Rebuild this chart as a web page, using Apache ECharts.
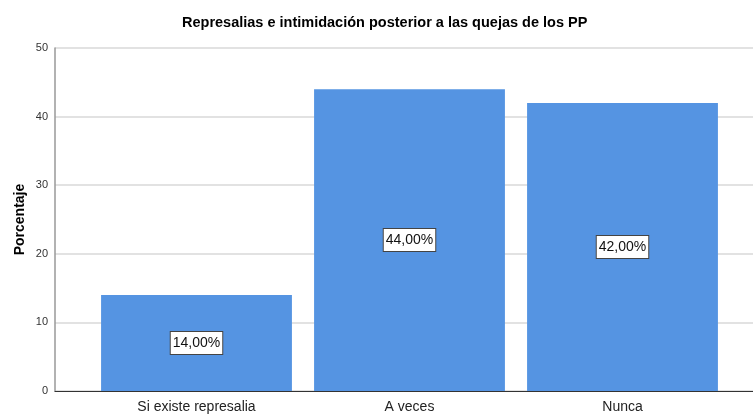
<!DOCTYPE html>
<html>
<head>
<meta charset="utf-8">
<script src="https://cdn.jsdelivr.net/npm/echarts@6/dist/echarts.min.js"></script>
<style>
  html, body { margin: 0; padding: 0; background: #fff; }
  #main { width: 753px; height: 416px; }
</style>
</head>
<body>
<div id="main"></div>
<script>
var titleText = 'Represalias e intimidación posterior a las quejas de los PP';
var categories = ['Si existe represalia', 'A veces', 'Nunca'];
var percentages = [14, 44, 42];
var yTicks = [0, 10, 20, 30, 40, 50];

var font = '"Liberation Sans", Arial, sans-serif';

var chart = echarts.init(document.getElementById('main'));

var option = {
    backgroundColor: '#ffffff',
    animation: false,
    title: {
        text: titleText,
        left: 177,
        top: 10,
        textStyle: { fontFamily: font, fontSize: 14.5, fontWeight: 'bold', color: '#000' }
    },
    grid: [
        // frame: axis lines + gridlines across full width
        { left: 55, right: 0, top: 48, bottom: 25, outerBoundsMode: 'none' },
        // bars
        { left: 90, right: 24, top: 48, bottom: 25, outerBoundsMode: 'none' }
    ],
    xAxis: [
        {
            type: 'category',
            gridIndex: 0,
            data: [''],
            axisLine: { lineStyle: { color: '#333', width: 1 } },
            axisTick: { show: false },
            axisLabel: { show: false }
        },
        {
            type: 'category',
            gridIndex: 1,
            data: categories,
            axisLine: { show: false },
            axisTick: { show: false },
            axisLabel: { fontFamily: font, fontSize: 14, color: '#222', margin: 9 }
        }
    ],
    yAxis: [
        {
            type: 'value',
            gridIndex: 0,
            min: yTicks[0],
            max: yTicks[yTicks.length - 1],
            interval: 10,
            name: 'Porcentaje',
            nameLocation: 'middle',
            nameGap: 28,
            nameMoveOverlap: false,
            nameTextStyle: { fontFamily: font, fontSize: 14, fontWeight: 'bold', color: '#000' },
            axisLine: { show: true, lineStyle: { color: '#999', width: 1.5 } },
            axisTick: { show: false },
            axisLabel: { fontFamily: font, fontSize: 11, color: '#333', margin: 7 },
            splitLine: { show: true, lineStyle: { color: '#d9d9d9', width: 1.5 } }
        },
        {
            type: 'value',
            gridIndex: 1,
            min: yTicks[0],
            max: yTicks[yTicks.length - 1],
            show: false,
            splitLine: { show: false }
        }
    ],
    series: [
        {
            type: 'bar',
            xAxisIndex: 1,
            yAxisIndex: 1,
            data: percentages,
            barCategoryGap: '10.4%',
            itemStyle: { color: '#5594e2' },
            label: {
                show: true,
                position: 'inside',
                formatter: function (p) {
                    return p.value.toFixed(2).replace('.', ',') + '%';
                },
                fontFamily: font,
                fontSize: 14,
                color: '#111',
                backgroundColor: '#ffffff',
                borderColor: '#444',
                borderWidth: 1,
                padding: [4, 2, 4, 2]
            }
        }
    ]
};

chart.setOption(option);
</script>
</body>
</html>
